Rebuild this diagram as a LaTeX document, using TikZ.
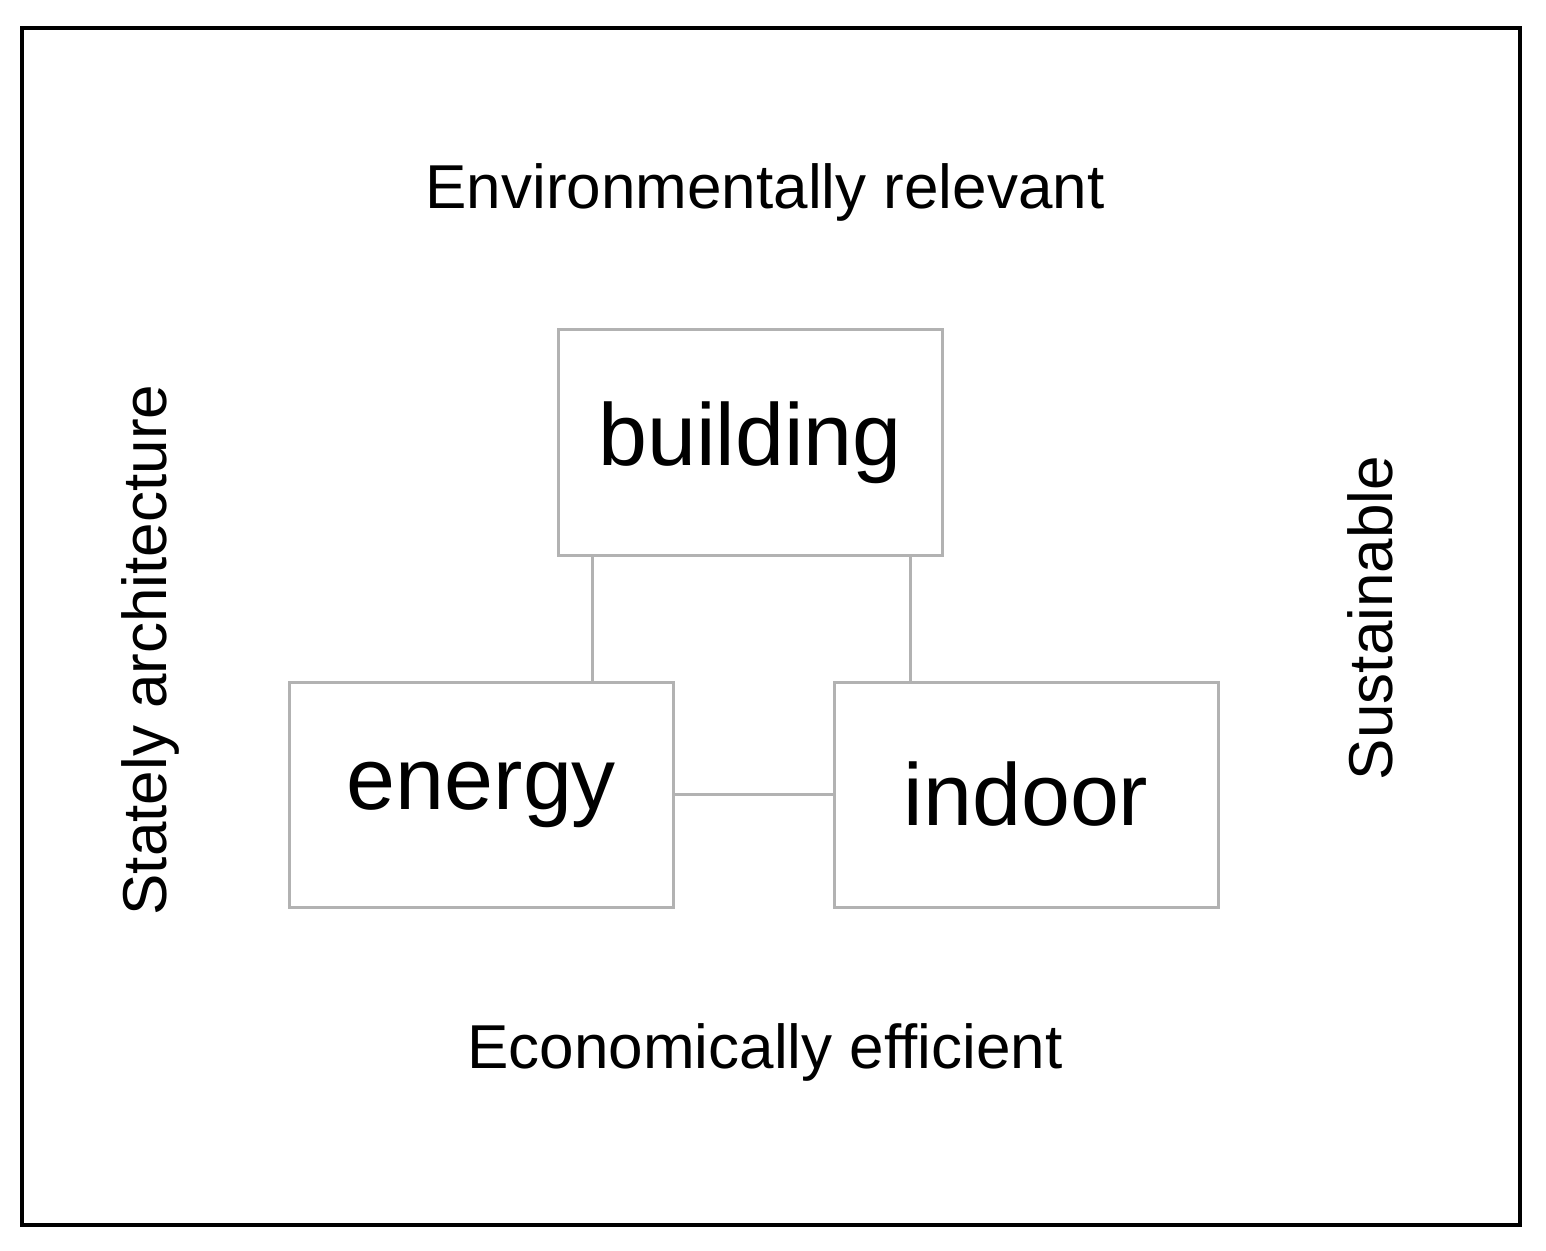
\documentclass[tikz,border=0pt]{standalone}
\usepackage{fontspec}
\setmainfont{Liberation Sans}
\begin{document}
\begin{tikzpicture}[x=0.5pt,y=-0.5pt,
  boxnode/.style={draw=black!30,line width=1.5pt,minimum width=192pt,minimum height=112.5pt,inner sep=0pt,font=\fontsize{44}{50}\selectfont},
  lbl/.style={font=\fontsize{31}{36}\selectfont,inner sep=0pt},
  conn/.style={draw=black!30,line width=1.5pt}]
\fill[white] (0,0) rectangle (1546,1251);
\useasboundingbox (0,0) rectangle (1546,1251);
\draw[line width=2pt] (22,28) rectangle (1520,1225);
\node[boxnode] (b) at (750,442.5) {building};
\node[boxnode] (e) at (481.5,794.5) {energy};
\node[boxnode] (i) at (1026,794.5) {indoor};
\draw[conn] ([xshift=18pt]b.south west) -- ([xshift=18pt]b.south west |- e.north);
\draw[conn] ([xshift=-16.5pt]b.south east) -- ([xshift=-16.5pt]b.south east |- i.north);
\draw[conn] (e.east) -- (i.west);
\node[lbl] (t) at (765,192) {Environmentally relevant};
\node[lbl] (bt) at (765,1052) {Economically efficient};
\node[lbl,rotate=90] (l) at (150,650) {Stately architecture};
\node[lbl,rotate=90] (r) at (1370,618) {Sustainable};
\end{tikzpicture}
\end{document}
